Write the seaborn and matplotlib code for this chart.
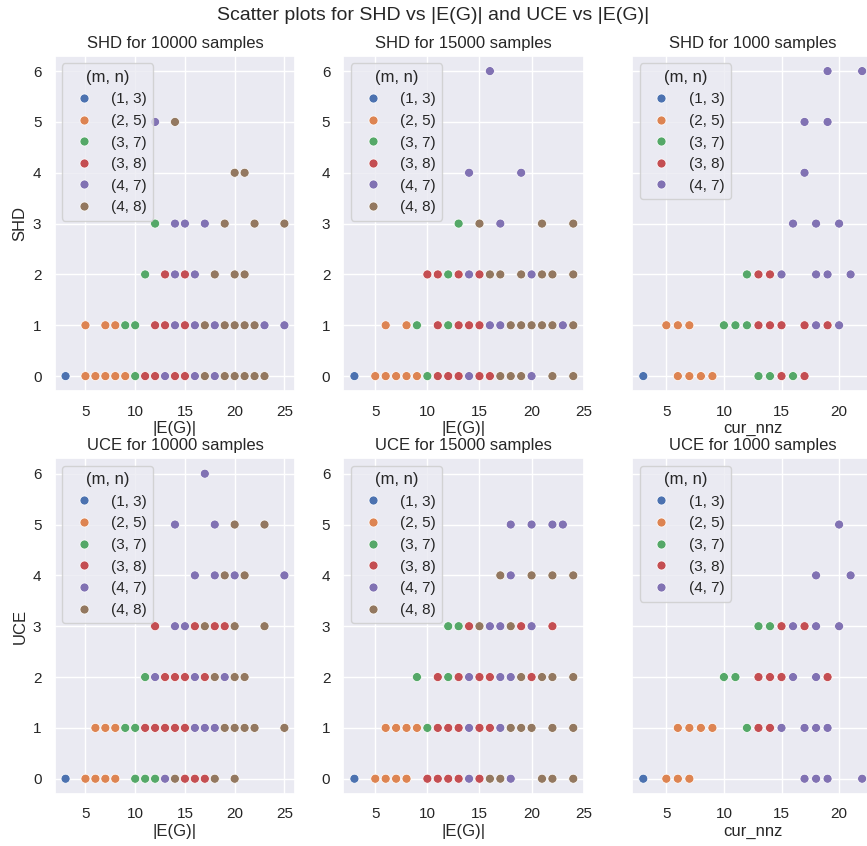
import numpy as np
import matplotlib
matplotlib.use('Agg')
import matplotlib.pyplot as plt
import seaborn as sns
import pandas as pd

sns.set_theme(style='darkgrid')
plt.rcParams['font.family'] = ['Liberation Sans', 'DejaVu Sans']

mn_labels = ['(1, 3)', '(2, 5)', '(3, 7)', '(3, 8)', '(4, 7)', '(4, 8)']
sample_sizes = [10000, 15000, 1000]
x_labels = ['|E(G)|', '|E(G)|', 'cur_nnz']

# SHD, 10000 samples  (mn = index into mn_labels)
shd_10000_x = [3, 5, 6, 7, 8, 9, 10, 11, 12, 13, 14, 15, 16, 17, 18, 19, 20, 21, 22, 23,
               5, 7, 8, 9, 10, 12, 13, 14, 15, 16, 17, 18, 19, 20, 21, 22, 23, 25,
               11, 13, 14, 15, 16, 18, 20, 21,
               12, 14, 15, 17, 19, 22, 25,
               20, 21,
               12, 14]
shd_10000_y = [0] * 20 + [1] * 18 + [2] * 8 + [3] * 7 + [4] * 2 + [5] * 2
shd_10000_mn = [0, 1, 1, 1, 1, 1, 2, 3, 3, 4, 3, 3, 4, 5, 4, 5, 5, 5, 5, 5,
                1, 1, 1, 2, 2, 3, 3, 4, 3, 4, 5, 4, 5, 5, 5, 5, 4, 4,
                2, 3, 4, 3, 4, 5, 5, 5,
                2, 4, 4, 4, 5, 5, 5,
                5, 5,
                4, 5]

# SHD, 15000 samples
shd_15000_x = [3, 5, 6, 7, 8, 9, 10, 11, 12, 13, 14, 15, 16, 17, 18, 19, 20, 22, 24,
               6, 8, 9, 11, 12, 13, 14, 15, 16, 17, 18, 19, 20, 21, 22, 23, 24,
               10, 11, 12, 13, 14, 15, 16, 17, 19, 20, 21, 22, 24,
               13, 15, 17, 21, 24,
               14, 19,
               16]
shd_15000_y = [0] * 19 + [1] * 17 + [2] * 13 + [3] * 5 + [4] * 2 + [6]
shd_15000_mn = [0, 1, 1, 1, 1, 1, 2, 3, 3, 3, 4, 3, 3, 5, 5, 5, 4, 5, 5,
                1, 1, 2, 3, 2, 3, 3, 3, 4, 4, 5, 5, 5, 5, 5, 4, 5,
                3, 3, 2, 3, 4, 3, 5, 5, 5, 4, 5, 5, 5,
                2, 5, 4, 5, 5,
                4, 4,
                4]

# SHD, 1000 samples
shd_1000_x = [3, 6, 7, 8, 9, 13, 14, 15, 16, 17,
              5, 6, 7, 10, 11, 12, 13, 14, 15, 17, 18, 19, 20,
              12, 13, 14, 15, 18, 19, 21,
              16, 18, 20,
              17,
              17, 19,
              19, 22]
shd_1000_y = [0] * 10 + [1] * 13 + [2] * 7 + [3] * 3 + [4] + [5] * 2 + [6] * 2
shd_1000_mn = [0, 1, 1, 1, 1, 2, 2, 3, 2, 3,
               1, 1, 1, 2, 2, 2, 3, 3, 3, 3, 4, 3, 4,
               2, 3, 3, 4, 4, 4, 4,
               4, 4, 4,
               4,
               4, 4,
               4, 4]

# UCE, 10000 samples
uce_10000_x = [3, 5, 6, 7, 8, 10, 11, 12, 13, 14, 15, 16, 17, 18, 20,
               6, 7, 8, 9, 10, 11, 12, 13, 14, 15, 16, 17, 18, 19, 20, 21, 22, 25,
               11, 12, 13, 14, 15, 16, 17, 18, 19, 20, 21,
               12, 14, 15, 16, 17, 18, 19, 20, 23,
               16, 18, 19, 20, 21, 25,
               14, 18, 20, 23,
               17]
uce_10000_y = [0] * 15 + [1] * 18 + [2] * 11 + [3] * 9 + [4] * 6 + [5] * 4 + [6]
uce_10000_mn = [0, 1, 1, 1, 1, 2, 2, 2, 4, 5, 3, 3, 3, 5, 5,
                1, 1, 1, 2, 2, 3, 3, 3, 3, 3, 4, 4, 4, 5, 5, 5, 5, 5,
                2, 4, 3, 3, 3, 4, 3, 5, 4, 5, 5,
                3, 4, 4, 3, 5, 3, 3, 5, 5,
                4, 4, 5, 4, 5, 4,
                4, 4, 5, 5,
                4]

# UCE, 15000 samples
uce_15000_x = [3, 5, 6, 7, 8, 10, 11, 12, 13, 14, 15, 16, 17, 18, 21, 22, 24,
               6, 7, 8, 9, 10, 11, 12, 13, 14, 15, 16, 17, 18, 19, 20, 22, 24,
               9, 11, 12, 13, 14, 15, 16, 17, 18, 19, 20, 21, 22, 24,
               12, 13, 14, 15, 16, 17, 18, 19, 20, 22,
               17, 18, 20, 22, 24,
               18, 20, 22, 23]
uce_15000_y = [0] * 17 + [1] * 17 + [2] * 14 + [3] * 10 + [4] * 5 + [5] * 4
uce_15000_mn = [0, 1, 1, 1, 1, 3, 3, 3, 3, 4, 3, 5, 5, 4, 5, 5, 5,
                1, 1, 1, 1, 2, 3, 3, 3, 4, 3, 3, 4, 5, 5, 5, 5, 5,
                2, 3, 2, 3, 4, 3, 3, 4, 4, 5, 3, 5, 5, 5,
                2, 2, 3, 5, 4, 4, 5, 3, 4, 3,
                5, 4, 5, 5, 5,
                4, 4, 4, 4]

# UCE, 1000 samples
uce_1000_x = [3, 5, 6, 7, 17, 18, 19, 22,
              6, 7, 8, 9, 12, 13, 14, 15, 17, 18, 19,
              10, 11, 13, 14, 15, 16, 18, 19,
              13, 14, 15, 16, 17, 18, 20,
              18, 21,
              20]
uce_1000_y = [0] * 8 + [1] * 11 + [2] * 8 + [3] * 7 + [4] * 2 + [5]
uce_1000_mn = [0, 1, 1, 1, 4, 4, 4, 4,
               1, 1, 1, 1, 2, 3, 3, 4, 4, 4, 4,
               2, 2, 3, 3, 3, 4, 4, 3,
               2, 2, 3, 4, 3, 4, 4,
               4, 4,
               4]

panels = [
    [(shd_10000_x, shd_10000_y, shd_10000_mn),
     (shd_15000_x, shd_15000_y, shd_15000_mn),
     (shd_1000_x, shd_1000_y, shd_1000_mn)],
    [(uce_10000_x, uce_10000_y, uce_10000_mn),
     (uce_15000_x, uce_15000_y, uce_15000_mn),
     (uce_1000_x, uce_1000_y, uce_1000_mn)],
]
metrics = ['SHD', 'UCE']

palette = sns.color_palette('deep')

fig, axes = plt.subplots(2, 3, figsize=(8.67, 8.46), dpi=100, sharey=True)
fig.subplots_adjust(left=0.063, right=1.007, bottom=0.0615, top=0.934,
                    wspace=0.2, hspace=0.2)

for r, metric in enumerate(metrics):
    for c, n in enumerate(sample_sizes):
        ax = axes[r, c]
        xs, ys, mn = panels[r][c]
        df = pd.DataFrame({'x': xs, 'y': ys, '(m, n)': [mn_labels[i] for i in mn]})
        used = sorted(set(mn))
        order = [mn_labels[i] for i in used]
        sns.scatterplot(data=df, x='x', y='y', hue='(m, n)', hue_order=order,
                        palette=[palette[i] for i in used], s=42, ax=ax)
        ax.set_title(f'{metric} for {n} samples')
        ax.set_xlabel(x_labels[c], labelpad=2)
        ax.set_ylabel(metric if c == 0 else '')
        ax.legend(title='(m, n)', loc='upper left')
        if c == 1:
            ax.yaxis.set_tick_params(labelleft=True)

fig.suptitle('Scatter plots for SHD vs |E(G)| and UCE vs |E(G)|', fontsize=14, y=0.992)
fig.savefig('out.png', dpi=100)
